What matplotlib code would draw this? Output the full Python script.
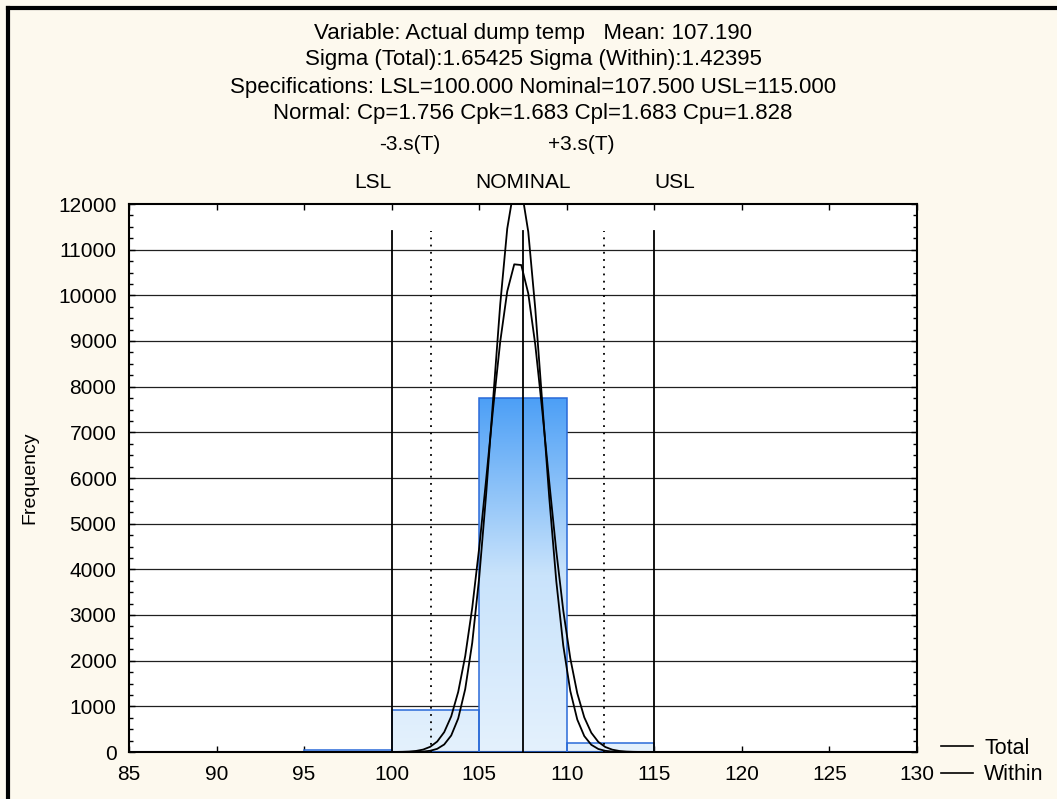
import numpy as np
import matplotlib
matplotlib.use("Agg")
import matplotlib.pyplot as plt
from matplotlib.lines import Line2D
from matplotlib.patches import Rectangle
import matplotlib.transforms as mtransforms
from matplotlib.colors import LinearSegmentedColormap

# ---------------- data ----------------
bin_edges = [85, 90, 95, 100, 105, 110, 115, 120, 125, 130]
bin_counts = [0, 0, 45, 920, 7760, 190, 0, 0, 0]
mean_value = 107.190
sigma_total = 1.65425
sigma_within = 1.42395
lsl, nominal, usl = 100.0, 107.5, 115.0
title_lines = [
    "Variable: Actual dump temp   Mean: 107.190",
    "Sigma (Total):1.65425 Sigma (Within):1.42395",
    "Specifications: LSL=100.000 Nominal=107.500 USL=115.000",
    "Normal: Cp=1.756 Cpk=1.683 Cpl=1.683 Cpu=1.828",
]
x_ticks = [85, 90, 95, 100, 105, 110, 115, 120, 125, 130]
y_ticks = list(range(0, 12001, 1000))
spec_line_top = 11400
curve_step = 0.4

# ---------------- figure ----------------
plt.rcParams['font.family'] = ['Liberation Sans', 'DejaVu Sans']
FS = 15
FS_T = 16
bg = '#FDF9EE'
fig = plt.figure(figsize=(10.57, 7.99), dpi=100, facecolor=bg)
ax = fig.add_axes([129/1057, 1-752/799, (917-129)/1057, (752-204)/799])
ax.set_facecolor('white')
ax.set_xlim(85, 130)
ax.set_ylim(0, 12000)

# horizontal grid
for yv in y_ticks[1:-1]:
    ax.axhline(yv, color='#202020', lw=0.9, zorder=1)

# gradient bars
cmap = LinearSegmentedColormap.from_list('barg', ['#E4F1FD', '#C9E3FB', '#4C9FF6'])
hmax = max(bin_counts)
for left, right, c in zip(bin_edges[:-1], bin_edges[1:], bin_counts):
    if c <= 0:
        continue
    grad = np.linspace(0, c / hmax, 256).reshape(-1, 1)
    im = ax.imshow(grad, cmap=cmap, vmin=0, vmax=1, origin='lower', aspect='auto',
                   extent=(left, right, 0, c), zorder=2, interpolation='bilinear')
    rect = Rectangle((left, 0), right - left, c, facecolor='none',
                     edgecolor='#2A6AD8', lw=1.1, zorder=3)
    ax.add_patch(rect)
    im.set_clip_path(rect)

# fitted normal curves
N = sum(bin_counts)
bw = bin_edges[1] - bin_edges[0]
xs = np.arange(bin_edges[0], bin_edges[-1] + 1e-9, curve_step)
for s in (sigma_total, sigma_within):
    ys = N * bw / (s * np.sqrt(2 * np.pi)) * np.exp(-0.5 * ((xs - mean_value) / s) ** 2)
    ax.plot(xs, ys, color='black', lw=1.3, zorder=5)

# spec lines
for xv in (lsl, nominal, usl):
    ax.plot([xv, xv], [0, spec_line_top], color='black', lw=1.3, zorder=4)
m3 = mean_value - 3 * sigma_total
p3 = mean_value + 3 * sigma_total
for xv in (m3, p3):
    ax.plot([xv, xv], [0, spec_line_top], color='black', lw=1.3, ls=(0, (1, 3)), zorder=4)

# labels above the plot
tr = mtransforms.blended_transform_factory(ax.transData, fig.transFigure)
tr_s = mtransforms.offset_copy(tr, fig=fig, x=10, y=0, units='dots')
y_lab1 = 1 - 182/799
y_lab2 = 1 - 145/799
ax.text(lsl, y_lab1, "LSL", transform=tr, ha='right', va='center', fontsize=FS)
ax.text(nominal, y_lab1, "NOMINAL", transform=tr, ha='center', va='center', fontsize=FS)
ax.text(usl, y_lab1, "USL", transform=tr, ha='left', va='center', fontsize=FS)
ax.text(m3, y_lab2, "-3.s(T)", transform=tr_s, ha='right', va='center', fontsize=FS)
ax.text(p3, y_lab2, "+3.s(T)", transform=tr_s, ha='right', va='center', fontsize=FS)

# title lines
for i, t in enumerate(title_lines):
    fig.text(533/1057, 1 - (33 + 27*i)/799, t, ha='center', va='center', fontsize=FS_T)

# ticks
ax.set_xticks(x_ticks)
ax.set_yticks(y_ticks)
ax.set_yticks(np.arange(0, 12001, 250), minor=True)
ax.tick_params(axis='both', which='both', direction='in', labelsize=FS, colors='black')
ax.tick_params(axis='x', which='major', top=True, length=4, width=1, pad=9)
ax.tick_params(axis='y', which='major', left=True, right=True, length=4, width=1, pad=9)
ax.tick_params(axis='y', which='minor', left=True, right=True, length=3, width=1)
for sp in ax.spines.values():
    sp.set_linewidth(1.5)
    sp.set_color('black')
ax.set_ylabel("Frequency", fontsize=14, labelpad=14)

# legend
handles = [Line2D([], [], color='black', lw=1.2), Line2D([], [], color='black', lw=1.2)]
fig.legend(handles, ["Total", "Within"], loc='upper left', bbox_to_anchor=(941/1057, 1 - 738/799),
           frameon=False, fontsize=15.5, handlelength=1.5, handletextpad=0.5,
           labelspacing=0.25, borderpad=0, borderaxespad=0)

# black border (left and top)
fig.add_artist(Line2D([7.5/1057, 7.5/1057], [0, 1 - 7.5/799], transform=fig.transFigure,
                      color='black', lw=3, solid_capstyle='projecting'))
fig.add_artist(Line2D([7.5/1057, 1], [1 - 7.5/799, 1 - 7.5/799], transform=fig.transFigure,
                      color='black', lw=3, solid_capstyle='projecting'))

fig.savefig("out.png", dpi=100, facecolor=bg)
